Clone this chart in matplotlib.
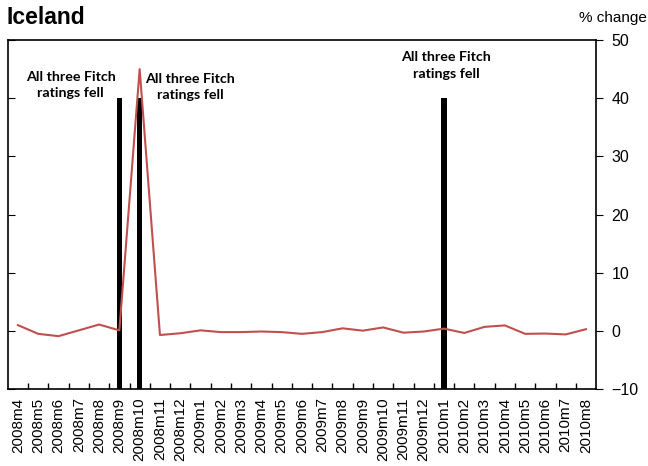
import matplotlib
matplotlib.use("Agg")
import matplotlib.pyplot as plt
import numpy as np

# Monthly categories, 2008m4 .. 2010m8
months = ["2008m4", "2008m5", "2008m6", "2008m7", "2008m8", "2008m9", "2008m10",
          "2008m11", "2008m12", "2009m1", "2009m2", "2009m3", "2009m4", "2009m5",
          "2009m6", "2009m7", "2009m8", "2009m9", "2009m10", "2009m11", "2009m12",
          "2010m1", "2010m2", "2010m3", "2010m4", "2010m5", "2010m6", "2010m7", "2010m8"]

# % change series (red line)
pct_change = [1.0, -0.5, -0.9, 0.1, 1.1, 0.1, 45.0,
              -0.7, -0.4, 0.1, -0.2, -0.2, -0.1, -0.2,
              -0.5, -0.2, 0.45, 0.05, 0.6, -0.3, -0.1,
              0.4, -0.35, 0.7, 0.95, -0.5, -0.45, -0.6, 0.3]

# Rating-downgrade event markers (black bars)
event_months = ["2008m9", "2008m10", "2010m1"]
event_height = 40
event_labels = ["All three Fitch\nratings fell"] * 3

plt.rcParams["font.family"] = ["Liberation Sans", "DejaVu Sans"]

fig = plt.figure(figsize=(6.48, 4.66), dpi=100)
ax = fig.add_axes([0.012, 0.165, 0.908, 0.749])

ax.set_xlim(-0.5, len(months) - 0.5)
ax.set_ylim(-10, 50)

x = np.arange(len(months))
ev_x = [months.index(m) for m in event_months]
# bars rise from the bottom of the axis up to the event height
y_bottom = ax.get_ylim()[0]
ax.bar(ev_x, [event_height - y_bottom] * len(ev_x), bottom=y_bottom, width=0.28,
       color="black", zorder=2)
ax.plot(x, pct_change, color="#c0504d", linewidth=1.5, zorder=3)

# annotation text
ann_pos = [(2.6, 42.3), (8.5, 41.9), (21.1, 45.6)]
for (tx, ty), lab in zip(ann_pos, event_labels):
    ax.text(tx, ty, lab, ha="center", va="center", fontsize=10.3, fontweight="bold",
            family=["Lato", "DejaVu Sans"], linespacing=1.45)

# y axis on the right, inward marks on the left spine
ax.yaxis.tick_right()
ax.set_yticks(np.arange(-10, 51, 10))
ax.tick_params(axis="y", which="both", right=True, left=True, direction="out",
               length=5, labelsize=11.5, pad=6)
for t in ax.yaxis.get_ticklines()[::2]:
    t.set_marker(matplotlib.lines.TICKRIGHT)

# x ticks: labels at category centres, marks at category boundaries
ax.set_xticks(x)
ax.set_xticklabels(months, rotation=90, fontsize=11)
ax.tick_params(axis="x", which="major", length=0, pad=6)
ax.set_xticks(np.arange(0.5, len(months) - 0.5, 1), minor=True)
ax.tick_params(axis="x", which="minor", direction="in", length=4, width=1)

for s in ax.spines.values():
    s.set_linewidth(1.2)
    s.set_color("black")

fig.text(0.01, 0.963, "Iceland", fontsize=16.5, fontweight="bold", ha="left", va="center")
fig.text(0.999, 0.961, "% change", fontsize=11, ha="right", va="center")

fig.savefig("out.png", dpi=100)
